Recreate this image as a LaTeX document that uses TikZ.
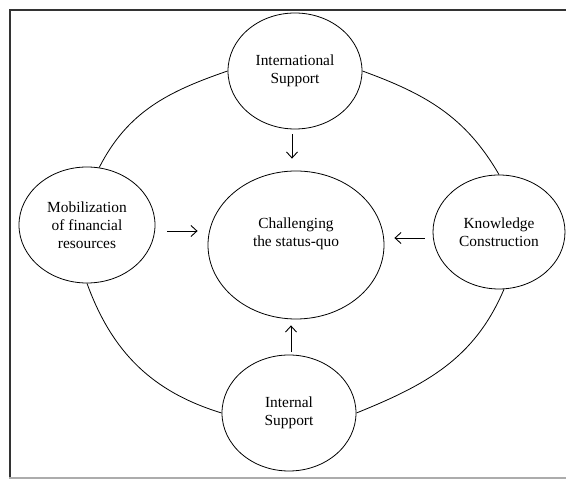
\documentclass[tikz,border=0pt]{standalone}
\usepackage{fontspec}
\setmainfont{Liberation Serif}
\usetikzlibrary{shapes.geometric,arrows.meta,calc}
\begin{document}
\begin{tikzpicture}[x=1pt,y=1pt,
  oval/.style={draw, ellipse, line width=0.8pt, inner sep=0pt, align=center,
    font=\fontsize{15.4}{18}\selectfont},
  link/.style={line width=0.8pt},
  arr/.style={line width=0.9pt, -{Straight Barb[length=6pt,width=11pt]}},
  frameline/.style={line width=2pt, black!80}]
\useasboundingbox (0,0) rectangle (566,479);
% frame
\draw[frameline] (9,468.7) -- (566,468.7);
\draw[frameline] (9.7,468.7) -- (9.7,1);
\draw[line width=2.2pt, gray!65] (9,1) -- (566,1);
% ellipses
\node[oval, minimum width=134pt, minimum height=116pt] (intl) at (295,408) {International\\Support};
\node[oval, minimum width=136pt, minimum height=116pt] (mob) at (87,254) {Mobilization\\of financial\\resources};
\node[oval, minimum width=176pt, minimum height=148pt] (chal) at (296,234) {Challenging\\the status-quo\\[8pt]};
\node[oval, minimum width=132pt, minimum height=114pt] (know) at (499,247) {Knowledge\\Construction};
\node[oval, minimum width=134pt, minimum height=116pt] (intn) at (289,66) {Internal\\Support};
% outer ring
\draw[link] (intl.west) to[out=199,in=63] (mob.78);
\draw[link] (mob.south) to[out=290,in=163] (intn.west);
\draw[link] (intl.east) to[out=340,in=120] (know.north);
\draw[link] (know.275) to[out=247,in=22] (intn.east);
% arrows
\draw[arr] ($(intl.south)+(-3,-5)$) -- ($(chal.north)+(-4,12)$);
\draw[arr] ($(mob.east)+(12,-6)$) -- ($(mob.east -| chal.west)+(-10,-6)$);
\draw[arr] ($(know.west)+(-8,-6)$) -- ($(know.west -| chal.east)+(10,-6)$);
\draw[arr] ($(intn.north)+(2,3)$) -- ($(chal.south)+(-5,-6)$);
\end{tikzpicture}
\end{document}
